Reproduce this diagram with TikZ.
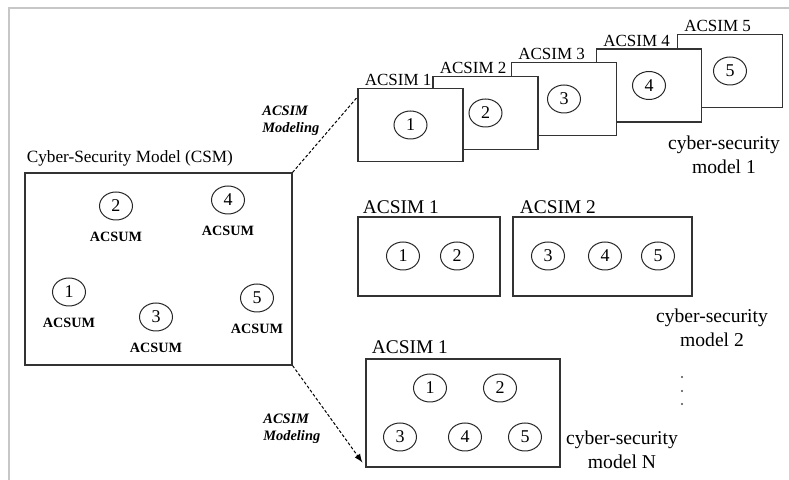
\documentclass[tikz,border=0pt]{standalone}
\usepackage{fontspec}
\setmainfont{Liberation Serif}
\usepackage{tikz}
\usetikzlibrary{positioning,shapes.geometric,arrows.meta}

\begin{document}
\begin{tikzpicture}[x=0.5pt,y=-0.5pt,
  box/.style={draw=black!80,line width=0.55pt,fill=white,inner sep=0pt},
  num/.style={draw=black!85,ellipse,line width=0.5pt,minimum width=16.5pt,minimum height=14pt,inner sep=0pt,font=\fontsize{9}{10}\selectfont},
  acsum/.style={inner sep=0pt,font=\fontsize{7.1}{8}\selectfont\bfseries},
  tag/.style={inner sep=0pt,anchor=base west},
  note/.style={align=center,font=\fontsize{9.8}{12}\selectfont},
  modeling/.style={align=left,anchor=west,inner sep=0pt,font=\fontsize{7.2}{8.5}\selectfont\bfseries\itshape},
  link/.style={line width=0.5pt,dash pattern=on 1.5pt off 1pt}]
  \useasboundingbox (0,0) rectangle (789,480);
  \draw[black!22,line width=1.2pt] (789,8) -- (9,8) -- (9,480); %外框只有上边和左边

  % 整体模型 CSM
  \node[box,minimum width=133.5pt,minimum height=96pt] (csm) at (158.5,269) {};
  \node[tag,font=\fontsize{8.6}{10}\selectfont] at ([xshift=1pt,yshift=5.2pt]csm.north west) {Cyber-Security Model (CSM)};
  \foreach \i/\x/\y in {1/69/292,2/116/206,3/156/317,4/228/200,5/257/298}{
    \node[num] (c\i) at (\x,\y) {\i};
    \node[acsum,below=5.8pt of c\i] (u\i) {ACSUM};
  }

  % model 1：从后往前画，前面的框盖住后面的
  \foreach \i/\x/\y in {5/730/71,4/649/85.5,3/564/99,2/485.5/113,1/410.5/125}{
    \node[box,minimum width=52.5pt,minimum height=36.5pt] (s\i) at (\x,\y) {};
    \node[num] (sc\i) at (s\i) {\i};
    \node[tag,font=\fontsize{8.5}{10}\selectfont] at ([xshift=3.5pt,yshift=1.2pt]s\i.north west) {ACSIM \i};
  }
  \node[note] (note1) at (724,155) {cyber-security\\model 1};

  % model 2
  \node[box,minimum width=71pt,minimum height=39.5pt] (m1) at (429,256.5) {};
  \node[box,minimum width=89.5pt,minimum height=39.5pt] (m2) at (602.5,256.5) {};
  \node[tag,font=\fontsize{9.7}{11}\selectfont] at ([xshift=2.5pt,yshift=1.3pt]m1.north west) {ACSIM 1};
  \node[tag,font=\fontsize{9.7}{11}\selectfont] at ([xshift=3.5pt,yshift=1.3pt]m2.north west) {ACSIM 2};
  \foreach \i/\x in {1/403,2/457,3/548,4/605,5/658}
    \node[num] (mc\i) at (\x,256) {\i};
  \node[note] (note2) at (712,328) {cyber-security\\model 2};
  \foreach \y in {377,391,404}
    \fill[black!70] (682,\y) circle (0.6pt);

  % model N
  \node[box,minimum width=97pt,minimum height=54pt] (n) at (463,413) {};
  \node[tag,font=\fontsize{9.7}{11}\selectfont] at ([xshift=3pt,yshift=2.3pt]n.north west) {ACSIM 1};
  \foreach \i/\x/\y in {1/430/388,2/500/388,3/400/437,4/465/437,5/525/437}
    \node[num] (nc\i) at (\x,\y) {\i};
  \node[note] (noteN) at (622,450) {cyber-security\\model N};

  % 连线
  \draw[link] (csm.north east) -- ([yshift=-4.5pt]s1.north west);
  \draw[link,-latex] (csm.south east) -- ([xshift=-1.5pt,yshift=2.5pt]n.south west);
  \node[modeling] at (262,121) {ACSIM\\Modeling};
  \node[modeling] at (263,429) {ACSIM\\Modeling};
\end{tikzpicture}
\end{document}
